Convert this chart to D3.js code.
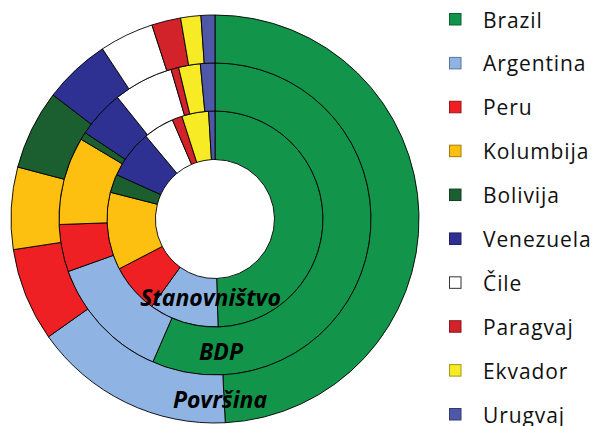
<!DOCTYPE html>
<html>
<head>
<meta charset="utf-8">
<script src="https://cdn.jsdelivr.net/npm/d3@7"></script>
<style>
html,body{margin:0;padding:0;background:#fff;}
svg{display:block;}
</style>
</head>
<body>
<svg id="chart" width="594" height="426"></svg>
<script>
const countries = ["Brazil","Argentina","Peru","Kolumbija","Bolivija","Venezuela","Čile","Paragvaj","Ekvador","Urugvaj"];
const colors = ["#12944a","#8fb4e3","#ee2024","#fdc010","#1b5e2f","#2e3192","#ffffff","#d2232a","#f7eb26","#4f58a8"];
// shares in percent, per ring
const stanovnistvo = [49.5,10.4,7.4,11.6,2.75,7.2,4.6,1.5,4.0,0.95];
const bdp = [56.5,13.0,4.9,9.1,0.8,4.9,6.2,0.8,2.25,1.5];
const povrsina = [49.2,16.0,7.4,6.5,6.3,5.3,4.3,2.3,1.6,1.1];
const ringNames = ["Stanovništvo","BDP","Površina"];
const rings = [stanovnistvo, bdp, povrsina];

const svg = d3.select("#chart");
const cx = 215, cy = 219;
const radii = [59.5, 108, 156, 204];

const pie = d3.pie().sort(null).value(d => d.v);
const g = svg.append("g").attr("transform", `translate(${cx},${cy})`);

rings.forEach((vals, ri) => {
  const data = vals.map((v, i) => ({v, i}));
  const arc = d3.arc().innerRadius(radii[ri]).outerRadius(radii[ri+1]);
  g.append("g").selectAll("path")
    .data(pie(data))
    .join("path")
    .attr("d", arc)
    .attr("fill", d => colors[d.data.i])
    .attr("stroke", "#000")
    .attr("stroke-width", 0.9)
    .attr("stroke-linejoin", "round");
});

const labelPos = [{x:210.5,y:306},{x:221,y:360},{x:220,y:408}];
ringNames.forEach((n, i) => {
  g.append("text")
    .attr("x", labelPos[i].x - cx)
    .attr("y", labelPos[i].y - cy)
    .attr("text-anchor", "middle")
    .attr("font-family", "'Open Sans', sans-serif")
    .attr("font-weight", 700)
    .attr("font-style", "italic")
    .attr("font-size", 23)
    .attr("fill", "#000")
    .text(n);
});

// legend
const ly = d3.scalePoint().domain(countries).range([19, 414]);
const lg = svg.append("g");
const rows = lg.selectAll("g").data(countries).join("g")
  .attr("transform", d => `translate(449,${ly(d)})`);
rows.append("rect")
  .attr("x", 0.5).attr("y", -5.5)
  .attr("width", 11.5).attr("height", 11.5)
  .attr("fill", (d,i) => colors[i])
  .attr("stroke", (d,i) => i === 6 ? "#333" : d3.color(colors[i]).darker(1.2))
  .attr("stroke-width", 1);
rows.append("text")
  .attr("x", 34).attr("y", 8.5)
  .attr("font-family", "'Open Sans', sans-serif")
  .attr("font-size", 21)
  .attr("letter-spacing", 0.9)
  .attr("fill", "#111")
  .text(d => d);
</script>
</body>
</html>
